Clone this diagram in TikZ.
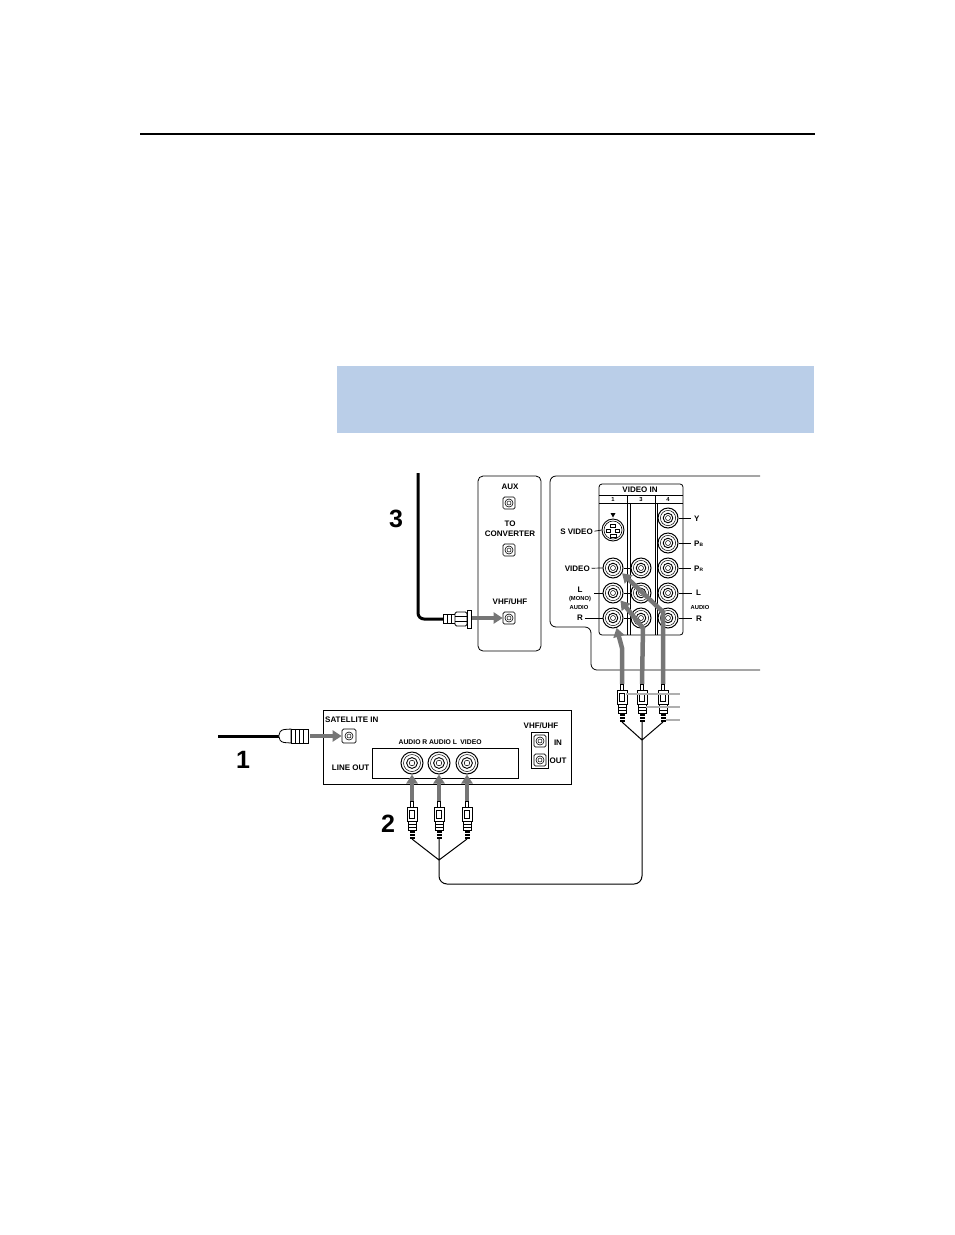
\documentclass[tikz,border=0pt]{standalone}
\usepackage{fontspec}
\setmainfont{Liberation Sans}
\usetikzlibrary{arrows.meta}
\definecolor{bluebg}{RGB}{186,206,232}
\definecolor{arrowgray}{RGB}{118,118,118}
\definecolor{leadgray}{RGB}{175,175,175}
\tikzset{
  lbl/.style={font=\fontsize{8}{8.5}\selectfont\bfseries, inner sep=0pt},
  smalllbl/.style={font=\fontsize{5.8}{6}\selectfont\bfseries, inner sep=0pt},
  midlbl/.style={font=\fontsize{6.8}{7}\selectfont\bfseries, inner sep=0pt},
  bignum/.style={font=\fontsize{25}{25}\selectfont\bfseries, inner sep=0pt},
  rcajack/.style={circle, draw, fill=white, line width=1pt, minimum size=20pt, inner sep=0pt,
    path picture={\draw[line width=0.5pt] (path picture bounding box.center) circle (7.6pt);
      \draw[line width=0.9pt] (path picture bounding box.center) circle (4.8pt);
      \draw[line width=0.5pt] (path picture bounding box.center) circle (2.5pt);}},
  rcajackbig/.style={circle, draw, fill=white, line width=1pt, minimum size=22pt, inner sep=0pt,
    path picture={\draw[line width=0.5pt] (path picture bounding box.center) circle (8.5pt);
      \draw[line width=0.9pt] (path picture bounding box.center) circle (5.4pt);
      \draw[line width=0.5pt] (path picture bounding box.center) circle (2.8pt);}},
  coaxjack/.style={rectangle, draw, fill=white, rounded corners=1.5pt, line width=0.7pt, minimum size=12pt, inner sep=0pt,
    path picture={\draw[line width=0.6pt] (path picture bounding box.center) circle (4pt);
      \draw[line width=0.5pt] (path picture bounding box.center) circle (2pt);}},
  grayarrow/.style={draw=arrowgray, line width=4.5pt, -{Triangle[width=11pt,length=9pt]}},
  wire/.style={line width=1pt},
  leadline/.style={line width=0.7pt},
  greylead/.style={draw=leadgray, line width=1.3pt},
  rcaplug/.pic={
    \draw[line width=0.6pt, fill=white] (-1.5,0) rectangle (1.5,6);
    \draw[line width=0.9pt, fill=white] (-5,6) rectangle (5,20);
    \draw[line width=0.6pt] (-2.5,9) rectangle (2.5,17);
    \draw[line width=0.9pt, fill=white] (-4,20) rectangle (4,29);
    \draw[line width=0.5pt] (-4,23) -- (4,23) (-4,26) -- (4,26);
    \fill (-2.5,29) rectangle (2.5,38);
    \draw[white, line width=0.6pt] (-2.5,32) -- (2.5,32) (-2.5,35) -- (2.5,35);
  }
}
\begin{document}
\begin{tikzpicture}[x=1pt,y=-1pt]
\useasboundingbox (0,0) rectangle (954,1235);
% header rule and blue band
\draw[line width=2pt] (140,134) -- (815,134);
\fill[bluebg] (337,366) rectangle (814,433);

% ---------- TV back outline ----------
\draw[line width=0.8pt, rounded corners=6pt] (760,476) -- (550,476) -- (550,627) -- (591,627) -- (591,670) -- (760,670);

% ---------- antenna panel ----------
\draw[line width=0.8pt, rounded corners=5pt] (478,476) rectangle (541,651);
\node[lbl] (auxl) at (510,487) {AUX};
\node[coaxjack] (aux) at (509,503) {};
\node[lbl] (tol) at (510,524) {TO};
\node[lbl] (convl) at (510,534) {CONVERTER};
\node[coaxjack] (conv) at (509,550) {};
\node[lbl] (vhfl) at (510,602) {VHF/UHF};
\node[coaxjack] (vhf) at (509,618) {};

% ---------- VIDEO IN block ----------
\draw[line width=0.8pt, rounded corners=3pt] (599,484) rectangle (683,635);
\draw[line width=0.6pt] (599,495) -- (683,495) (599,503) -- (683,503);
\draw[line width=0.6pt] (627.5,495) -- (627.5,635) (655,495) -- (655,635);
\draw[line width=0.5pt] (630,503) -- (630,635) (657.5,503) -- (657.5,635);
\node[lbl] (vin) at (640,490) {VIDEO IN};
\node[smalllbl] (h1) at (613,499.3) {1};
\node[smalllbl] (h3) at (641,499.3) {3};
\node[smalllbl] (h4) at (668,499.3) {4};

% S video
\node[circle, draw, fill=white, line width=0.9pt, minimum size=22pt, inner sep=0pt] (sv) at (613,530) {};
\draw[line width=0.6pt] (sv.center) circle (9pt);
\draw[line width=0.5pt] (610.5,524.5) rectangle (615.5,527.5)
  (606.5,529) rectangle (610.5,532) (615.5,529) rectangle (619.5,532)
  (610,534) rectangle (616,537.5);
\fill (610.5,513) -- (615.5,513) -- (613,517.5) -- cycle;

% column jacks
\node[rcajack] (v1) at (613,568) {};
\node[rcajack] (l1) at (613,593) {};
\node[rcajack] (r1) at (613,618) {};
\node[rcajack] (v3) at (641,568) {};
\node[rcajack] (l3) at (641,593) {};
\node[rcajack] (r3) at (641,618) {};
\node[rcajack] (y4) at (668,518) {};
\node[rcajack] (pb4) at (668,543) {};
\node[rcajack] (pr4) at (668,568) {};
\node[rcajack] (l4) at (668,593) {};
\node[rcajack] (r4) at (668,618) {};
\draw[leadline] (v1.east) -- (v3.west) (l1.east) -- (l3.west) (r1.east) -- (r3.west);

% left labels
\node[lbl, anchor=east] (svl) at (593,532) {S VIDEO};
\draw[leadline] (svl.east) ++(1.5,-0.8) -- (sv.west);
\node[lbl, anchor=east] (vl) at (590,569) {VIDEO};
\draw[leadline] (vl.east) ++(1.5,-0.8) -- (v1.west);
\node[lbl] (ll) at (580,589.5) {L};
\node[smalllbl] (monol) at (580,599) {(MONO)};
\node[smalllbl] (audl) at (579,607.5) {AUDIO};
\draw[leadline] (594,593) -- (l1.west);
\node[lbl] (rl) at (580,618) {R};
\draw[leadline] (585,618) -- (r1.west);

% right labels
\node[lbl, anchor=west] (yl) at (694,518.5) {Y};
\draw[leadline] (y4.east) -- (691,518);
\node[lbl, anchor=west] (pbl) at (694,544) {P{\fontsize{4.8}{5}\selectfont B}};
\draw[leadline] (pb4.east) -- (691,543);
\node[lbl, anchor=west] (prl) at (694,569) {P{\fontsize{4.8}{5}\selectfont R}};
\draw[leadline] (pr4.east) -- (691,568);
\node[lbl, anchor=west] (l4l) at (696,593) {L};
\draw[leadline] (l4.east) -- (692,593);
\node[smalllbl] (aud4) at (700,607) {AUDIO};
\node[lbl, anchor=west] (r4l) at (696,619) {R};
\draw[leadline] (r4.east) -- (692,618);

% ---------- cable 3 to VHF/UHF ----------
\coordinate (c3top) at (418,473);
\coordinate (c3bend) at (418,619);
\coordinate (c3end) at (444,619);
\draw[line width=3pt, rounded corners=6pt] (c3top) -- (c3bend) -- (c3end);
\draw[line width=0.8pt, fill=white] (443,614.5) rectangle (455,623.5);
\draw[line width=0.5pt] (447,614.5) -- (447,623.5) (451,614.5) -- (451,623.5);
\draw[line width=0.9pt, fill=white, rounded corners=1.5pt] (455,612) rectangle (467,626);
\draw[line width=0.5pt] (455,616.5) -- (467,616.5) (455,621.5) -- (467,621.5);
\draw[line width=0.9pt, fill=white] (467,610) rectangle (471,628);
\coordinate (fcon) at (472,618);
\draw[grayarrow] (fcon) -- (vhf.west);
\node[bignum] (n3) at (396,519) {3};

% ---------- satellite receiver ----------
\draw[line width=0.8pt] (323,710) rectangle (571,784);
\node[lbl, anchor=west] (satl) at (325,719.5) {SATELLITE IN};
\node[coaxjack, minimum size=14pt] (satin) at (349,736) {};
\draw[line width=0.8pt] (372,748) rectangle (518,778);
\node[lbl, anchor=east] (lineout) at (369.5,768) {LINE OUT};
\node[midlbl] (arl) at (413,742) {AUDIO R};
\node[midlbl] (all) at (443,742) {AUDIO L};
\node[midlbl] (vidl) at (471,742) {VIDEO};
\node[rcajackbig] (ja) at (412,763) {};
\node[rcajackbig] (jb) at (439,763) {};
\node[rcajackbig] (jc) at (467,763) {};
\node[lbl] (vhfs) at (541,726) {VHF/UHF};
\draw[line width=0.8pt] (531.5,732) rectangle (548.5,768);
\node[coaxjack] (sin) at (540,741) {};
\node[coaxjack] (sout) at (540,760) {};
\node[lbl] (inl) at (558,743) {IN};
\node[lbl] (outl) at (558,761) {OUT};

% cable 1
\coordinate (c1start) at (218,736);
\coordinate (c1end) at (280,736);
\draw[line width=3pt] (c1start) -- (c1end);
\draw[line width=0.8pt, fill=white] (291,729) -- (284,729.5) .. controls (277,730.5) and (277,741.5) .. (284,742.5) -- (291,743) -- cycle;
\draw[line width=0.9pt, fill=white] (291,729) rectangle (308,743);
\draw[line width=0.5pt] (295,729) -- (295,743) (299,729) -- (299,743) (303,729) -- (303,743);
\coordinate (satcon) at (310,736);
\draw[grayarrow] (satcon) -- (satin.west);
\node[bignum] (n1) at (243,760) {1};

% ---------- TV side plugs ----------
\coordinate (pa) at (622,684);
\coordinate (pb) at (642,684);
\coordinate (pc) at (663,684);
\draw[grayarrow] (pa) -- (622,648) -- (r1.-70);
\draw[grayarrow] (pb) -- (643,628) -- (l1.-45);
\draw[grayarrow] (pc) -- (663,612) -- (v1.-30);
\pic at (pa) {rcaplug};
\pic at (pb) {rcaplug};
\pic at (pc) {rcaplug};
\coordinate (pat) at (622,722);
\coordinate (pbt) at (642,722);
\coordinate (pct) at (663,722);
\coordinate (tvjoin) at (642,740);
\draw[wire] (pat) -- (tvjoin) (pbt) -- (tvjoin) (pct) -- (tvjoin);
\coordinate (lda) at (680,694);
\coordinate (ldb) at (680,707);
\coordinate (ldc) at (680,720);
\draw[greylead] (626,694) -- (lda);
\draw[greylead] (646,707) -- (ldb);
\draw[greylead] (666,720) -- (ldc);

% ---------- receiver side plugs ----------
\coordinate (qa) at (412,801);
\coordinate (qb) at (439,801);
\coordinate (qc) at (467,801);
\draw[grayarrow] (qa) -- (ja);
\draw[grayarrow] (qb) -- (jb);
\draw[grayarrow] (qc) -- (jc);
\pic at (qa) {rcaplug};
\pic at (qb) {rcaplug};
\pic at (qc) {rcaplug};
\coordinate (qat) at (412,839);
\coordinate (qbt) at (439,839);
\coordinate (qct) at (467,839);
\coordinate (satjoin) at (439,860);
\draw[wire] (qat) -- (satjoin) (qbt) -- (satjoin) (qct) -- (satjoin);
\node[bignum] (n2) at (388,824) {2};

% connecting cable
\coordinate (bendR) at (642,884);
\coordinate (bendL) at (439,884);
\draw[wire, rounded corners=8pt] (tvjoin) -- (bendR) -- (bendL) -- (satjoin);
\end{tikzpicture}
\end{document}
